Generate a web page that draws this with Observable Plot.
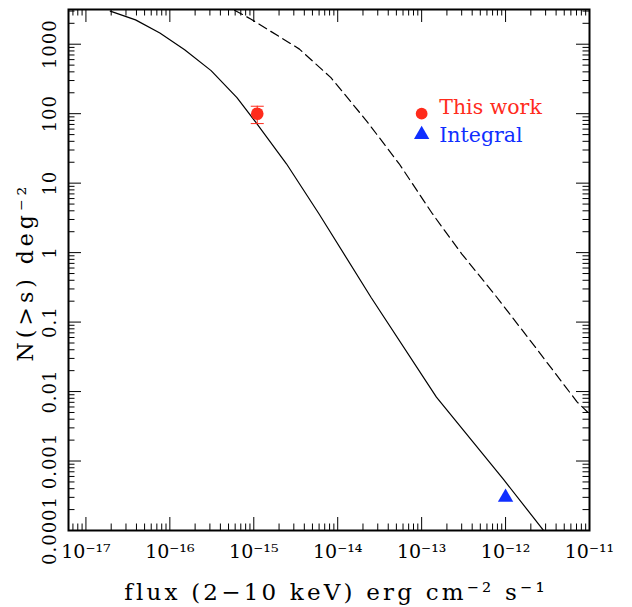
<!DOCTYPE html>
<html>
<head>
<meta charset="utf-8">
<script src="https://cdn.jsdelivr.net/npm/d3@7"></script>
<script src="https://cdn.jsdelivr.net/npm/@observablehq/plot@0.6"></script>
<style>
  body { margin: 0; background: #fff; }
  #chart svg { display: block; }
</style>
</head>
<body>
<div id="chart"></div>
<script>
// Model log N - log S, 2-10 keV (solid)
const modelFlux = [1.95e-17, 3.9e-17, 7.6e-17, 1.5e-16, 3.1e-16, 6.3e-16, 1.07e-15, 2.45e-15, 6.0e-15, 2.5e-14, 1.5e-13, 9.5e-13, 2.8e-12];
const modelN    = [3000, 2240, 1450, 830, 417, 170, 74, 19, 3.6, 0.226, 0.0083, 0.00054, 0.000102];

// Second model curve (dashed)
const altFlux = [5.9e-16, 9.3e-16, 3.5e-15, 8.3e-15, 2.2e-14, 5.4e-14, 1.35e-13, 3.0e-13, 7.6e-13, 2.1e-12, 7.1e-12, 9.6e-12];
const altN    = [3090, 2290, 850, 330, 79, 19, 3.6, 0.96, 0.24, 0.049, 0.0071, 0.0050];

// Measured points
const thisWorkFlux = [1.1e-15];
const thisWorkN    = [100];
const thisWorkLow  = [72];
const thisWorkHigh = [128];
const integralFlux = [1e-12];
const integralN    = [3e-4];

// Legend entries
const legendLabels = ["This work", "Integral"];
const legendFlux   = [1e-13, 1e-13];
const legendN      = [100, 50];

// Axis ticks and labels
const xTickValues = [1e-17, 1e-16, 1e-15, 1e-14, 1e-13, 1e-12, 1e-11];
const xTickLabels = ["10⁻¹⁷", "10⁻¹⁶", "10⁻¹⁵", "10⁻¹⁴", "10⁻¹³", "10⁻¹²", "10⁻¹¹"];
const yTickValues = [1e-4, 1e-3, 1e-2, 1e-1, 1, 10, 100, 1000];
const yTickLabels = ["0.0001", "0.001", "0.01", "0.1", "1", "10", "100", "1000"];
const xTitle = "flux (2−10 keV) erg cm⁻² s⁻¹";
const yTitle = "N(>s) deg⁻²";

const xDomain = [6.2e-18, 1e-11];
const yDomain = [1e-4, 3160];

const red = "#ff2b1c";
const blue = "#0f2eff";

const W = 632, H = 607;
const mL = 68, mR = 43, mT = 9, mB = 77;
const frameW = W - mL - mR, frameH = H - mT - mB;
const majorLen = 13, minorLen = 6.5;

const model = modelFlux.map((f, i) => ({flux: f, n: modelN[i]}));
const alt = altFlux.map((f, i) => ({flux: f, n: altN[i]}));
const thisWork = thisWorkFlux.map((f, i) => ({flux: f, n: thisWorkN[i], lo: thisWorkLow[i], hi: thisWorkHigh[i]}));
const caps = thisWork.flatMap(d => [{flux: d.flux, n: d.lo}, {flux: d.flux, n: d.hi}]);
const integral = integralFlux.map((f, i) => ({flux: f, n: integralN[i]}));
const legend = legendLabels.map((l, i) => ({label: l, flux: legendFlux[i], n: legendN[i]}));
const xTicks = xTickValues.map((v, i) => ({v, label: xTickLabels[i]}));
const yTicks = yTickValues.map((v, i) => ({v, label: yTickLabels[i]}));

// minor ticks: every 1..9 multiple inside the domain that is not a power of ten
const isPow10 = v => Math.abs(Math.log10(v) - Math.round(Math.log10(v))) < 1e-9;
const xMinor = d3.scaleLog().domain(xDomain).ticks().filter(v => !isPow10(v));
const yMinor = d3.scaleLog().domain(yDomain).ticks().filter(v => !isPow10(v));
const xMajor = d3.scaleLog().domain(xDomain).ticks().filter(isPow10);
const yMajor = d3.scaleLog().domain(yDomain).ticks().filter(isPow10);

// horizontal bar used for the error-bar caps
const capSymbol = {
  draw(context, size) {
    const w = Math.sqrt(size / Math.PI);
    context.moveTo(-w, 0);
    context.lineTo(w, 0);
  }
};

const tickStyle = {stroke: "black", strokeWidth: 1};

const chart = Plot.plot({
  width: W,
  height: H,
  marginLeft: mL,
  marginRight: mR,
  marginTop: mT,
  marginBottom: mB,
  x: {type: "log", domain: xDomain, axis: null},
  y: {type: "log", domain: yDomain, axis: null},
  style: {fontFamily: "'DejaVu Serif', serif", background: "white", overflow: "visible"},
  marks: [
    // inward ticks on all four sides
    Plot.tickX(xMajor, {x: d => d, insetTop: frameH - majorLen, ...tickStyle}),
    Plot.tickX(xMajor, {x: d => d, insetBottom: frameH - majorLen, ...tickStyle}),
    Plot.tickX(xMinor, {x: d => d, insetTop: frameH - minorLen, ...tickStyle}),
    Plot.tickX(xMinor, {x: d => d, insetBottom: frameH - minorLen, ...tickStyle}),
    Plot.tickY(yMajor, {y: d => d, insetRight: frameW - majorLen, ...tickStyle}),
    Plot.tickY(yMajor, {y: d => d, insetLeft: frameW - majorLen, ...tickStyle}),
    Plot.tickY(yMinor, {y: d => d, insetRight: frameW - minorLen, ...tickStyle}),
    Plot.tickY(yMinor, {y: d => d, insetLeft: frameW - minorLen, ...tickStyle}),

    // model curves
    Plot.line(model, {x: "flux", y: "n", stroke: "black", strokeWidth: 1.2, clip: true}),
    Plot.line(alt, {x: "flux", y: "n", stroke: "black", strokeWidth: 1.2, strokeDasharray: "9,5", clip: true}),

    // this work: point with error bar
    Plot.ruleX(thisWork, {x: "flux", y1: "lo", y2: "hi", stroke: red, strokeWidth: 1}),
    Plot.dot(caps, {x: "flux", y: "n", symbol: capSymbol, r: 6.5, stroke: red, strokeWidth: 1, fill: "none"}),
    Plot.dot(thisWork, {x: "flux", y: "n", r: 6.3, fill: red, stroke: null}),

    // Integral point
    Plot.dot(integral, {x: "flux", y: "n", symbol: "triangle", r: 5.7, fill: blue, stroke: null}),

    // legend
    Plot.dot(legend.slice(0, 1), {x: "flux", y: "n", r: 5.9, fill: red, stroke: null}),
    Plot.dot(legend.slice(1, 2), {x: "flux", y: "n", symbol: "triangle", r: 5.7, fill: blue, stroke: null}),
    Plot.text(legend.slice(0, 1), {x: "flux", y: "n", text: "label", fill: red, fontSize: 20.5, textAnchor: "start", lineAnchor: "bottom", dx: 17.6, dy: 0.7}),
    Plot.text(legend.slice(1, 2), {x: "flux", y: "n", text: "label", fill: blue, fontSize: 20.5, textAnchor: "start", lineAnchor: "bottom", dx: 17.6, dy: 7.8}),

    // frame
    Plot.frame({stroke: "black", strokeWidth: 2}),

    // tick labels
    Plot.text(xTicks, {x: "v", text: "label", frameAnchor: "bottom", lineAnchor: "bottom", textAnchor: "middle", dy: 27, fontSize: 19, fill: "black"}),
    Plot.text(yTicks, {y: "v", text: "label", frameAnchor: "left", lineAnchor: "bottom", textAnchor: "middle", rotate: -90, dx: -12.5, fontSize: 18, fill: "black"}),

    // axis titles
    Plot.text([xTitle], {text: d => d, frameAnchor: "bottom", lineAnchor: "bottom", textAnchor: "middle", dy: 69, dx: 7, fontSize: 23, fill: "black"}),
    Plot.text([yTitle], {text: d => d, frameAnchor: "left", lineAnchor: "bottom", textAnchor: "middle", rotate: -90, dx: -36, dy: 2, fontSize: 22, fill: "black"})
  ]
});

// the serif lettering of the axis titles is set loosely
const spacing = new Map([[xTitle, 3.2], [yTitle, 4]]);
yTickLabels.forEach(l => spacing.set(l, 1));
d3.select(chart).selectAll("text").each(function () {
  const s = spacing.get(this.textContent);
  if (s != null) this.setAttribute("letter-spacing", s);
});

document.getElementById("chart").appendChild(chart);
</script>
</body>
</html>
